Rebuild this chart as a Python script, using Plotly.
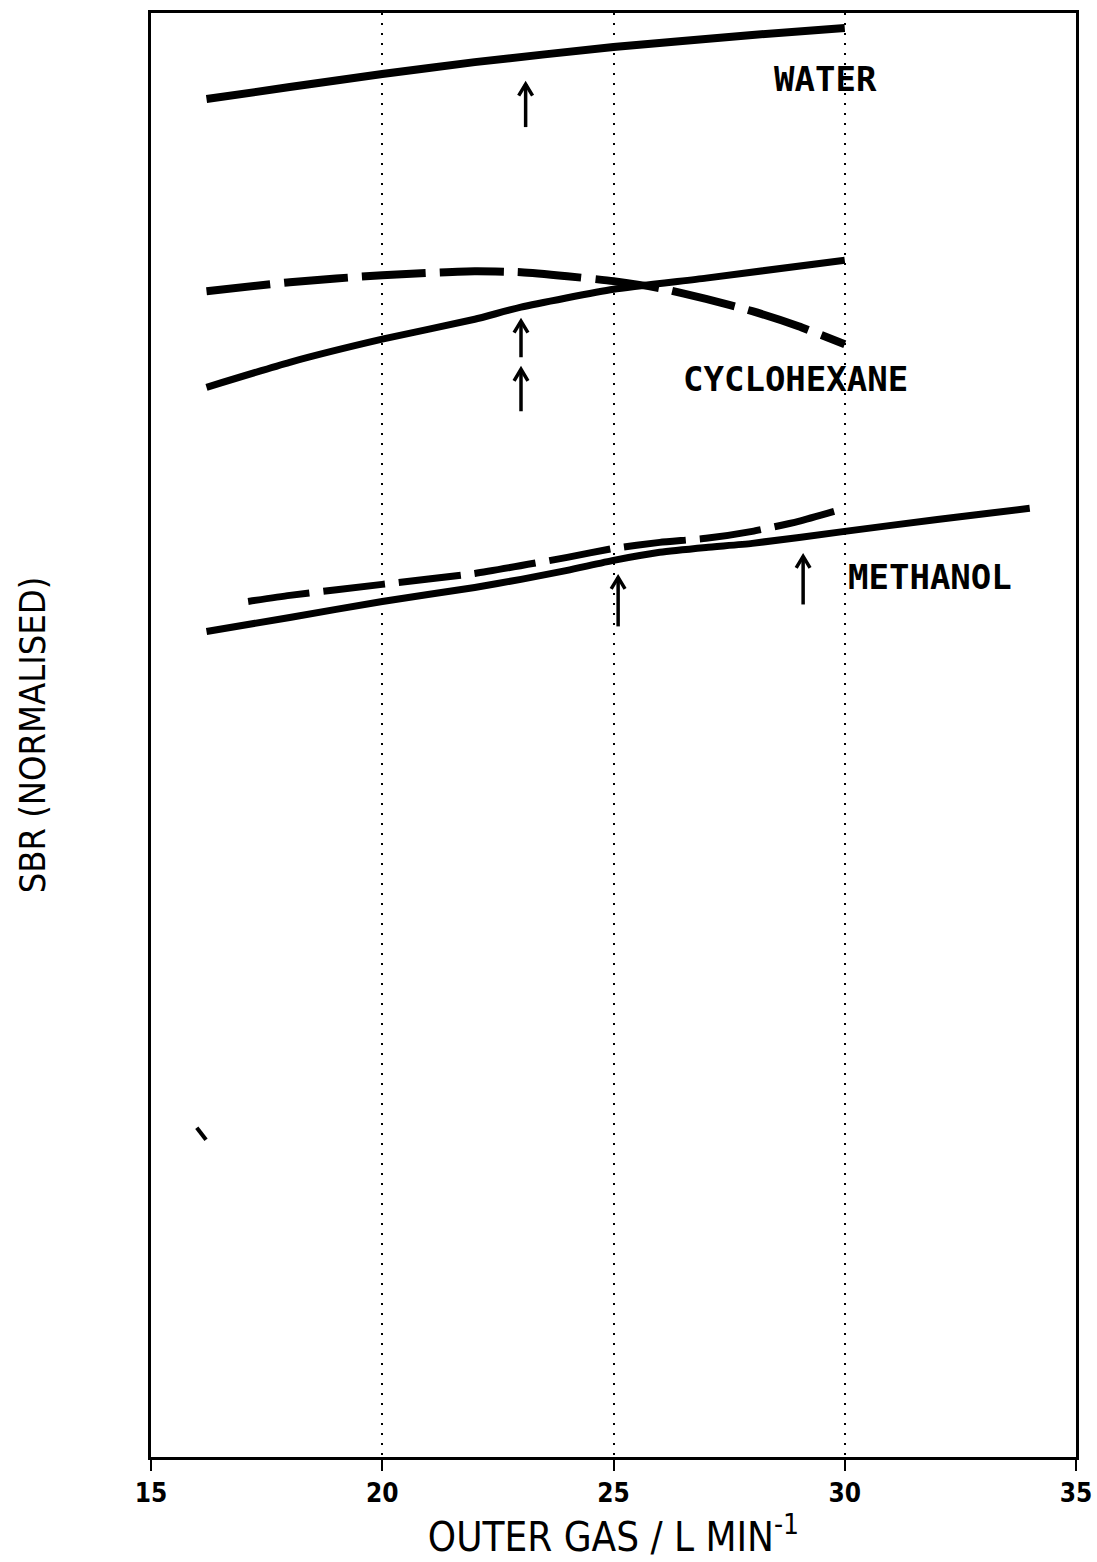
import plotly.graph_objects as go

# ---- data (y in normalised arbitrary units, 0-100) ----
water_x = [16.2, 18, 20, 22, 25, 28, 30]
water_y = [94.04, 94.87, 95.77, 96.60, 97.64, 98.48, 98.96]

cyc_solid_x = [16.2, 18, 20, 22, 23, 25, 27, 30]
cyc_solid_y = [74.08, 75.81, 77.41, 78.79, 79.63, 80.87, 81.64, 82.88]

cyc_dash_x = [16.2, 18, 20, 22, 23, 24, 25, 26, 27, 28, 29, 30]
cyc_dash_y = [80.73, 81.36, 81.84, 82.12, 82.05, 81.77, 81.43, 80.94, 80.20, 79.35, 78.31, 77.06]

meth_solid_x = [16.2, 18, 20, 22, 23, 24, 25, 26, 27, 28, 30, 32, 34]
meth_solid_y = [57.17, 58.14, 59.25, 60.22, 60.78, 61.40, 62.09, 62.65, 62.99, 63.27, 64.10, 64.93, 65.70]

meth_dash_x = [17.1, 18, 20, 22, 24, 25, 26, 27, 28, 29, 30]
meth_dash_y = [59.25, 59.67, 60.43, 61.19, 62.30, 62.92, 63.34, 63.62, 64.10, 64.80, 65.70]

# arrows: x position, tail y, head y
arrow_x = [23.1, 23.0, 23.0, 25.1, 29.1]
arrow_tail = [92.10, 76.16, 72.42, 57.52, 59.04]
arrow_head = [95.08, 78.66, 75.33, 60.92, 62.37]

# small stray stroke near bottom-left
stroke_x = [15.99, 16.19]
stroke_y = [22.80, 21.97]

labels = ["WATER", "CYCLOHEXANE", "METHANOL"]
label_x = [29.58, 28.93, 31.85]
label_y = [95.43, 74.64, 60.92]

x_ticks = [15, 20, 25, 30, 35]

fig = go.Figure()

def line(x, y, width, dash="solid"):
    fig.add_trace(go.Scatter(x=x, y=y, mode="lines",
                             line=dict(color="black", width=width, dash=dash,
                                       shape="spline", smoothing=0.5),
                             showlegend=False, hoverinfo="skip"))

line(water_x, water_y, 8)
line(cyc_solid_x, cyc_solid_y, 7)
line(cyc_dash_x, cyc_dash_y, 8, "64px,14px")
line(meth_solid_x, meth_solid_y, 7)
line(meth_dash_x, meth_dash_y, 7, "62px,14px")

# arrows as shaft + open chevron head
hdx, hdy = 0.15, 0.8
for ax_, t, h in zip(arrow_x, arrow_tail, arrow_head):
    fig.add_trace(go.Scatter(x=[ax_, ax_, None, ax_ - hdx, ax_, ax_ + hdx],
                             y=[t, h, None, h - hdy, h, h - hdy],
                             mode="lines", line=dict(color="black", width=3.5),
                             showlegend=False, hoverinfo="skip"))

fig.add_trace(go.Scatter(x=stroke_x, y=stroke_y, mode="lines",
                         line=dict(color="black", width=4),
                         showlegend=False, hoverinfo="skip"))

for txt, lx, ly in zip(labels, label_x, label_y):
    fig.add_annotation(x=lx, y=ly, xref="x", yref="y", text="<b>" + txt + "</b>", showarrow=False,
                       font=dict(family="DejaVu Sans Mono", size=34, color="black"),
                       xanchor="center", yanchor="middle")

fig.update_layout(
    width=1097, height=1562,
    margin=dict(l=151, r=21, t=13, b=105),
    paper_bgcolor="white", plot_bgcolor="white",
    showlegend=False,
    xaxis=dict(range=[15, 35], tickvals=x_ticks, ticktext=["<b>%d</b>" % v for v in x_ticks],
               ticks="outside", ticklen=11, tickwidth=2, tickcolor="black",
               showline=True, linecolor="black", linewidth=3, mirror=True,
               showgrid=True, gridcolor="black", gridwidth=2, griddash="2px,8px",
               zeroline=False, automargin=False,
               tickfont=dict(family="DejaVu Sans Condensed, DejaVu Sans", size=26, color="black"),
               title=dict(text="OUTER GAS / L MIN<sup>-1</sup>", standoff=8,
                          font=dict(family="DejaVu Sans Condensed, DejaVu Sans", size=40, color="black"))),
    yaxis=dict(range=[0, 100], showticklabels=False, ticks="",
               showline=True, linecolor="black", linewidth=3, mirror=True,
               showgrid=False, zeroline=False,
               title=dict(text="SBR (NORMALISED)", standoff=92,
                          font=dict(family="DejaVu Sans Condensed, DejaVu Sans", size=36, color="black"))),
)

fig.write_html("out.html")
